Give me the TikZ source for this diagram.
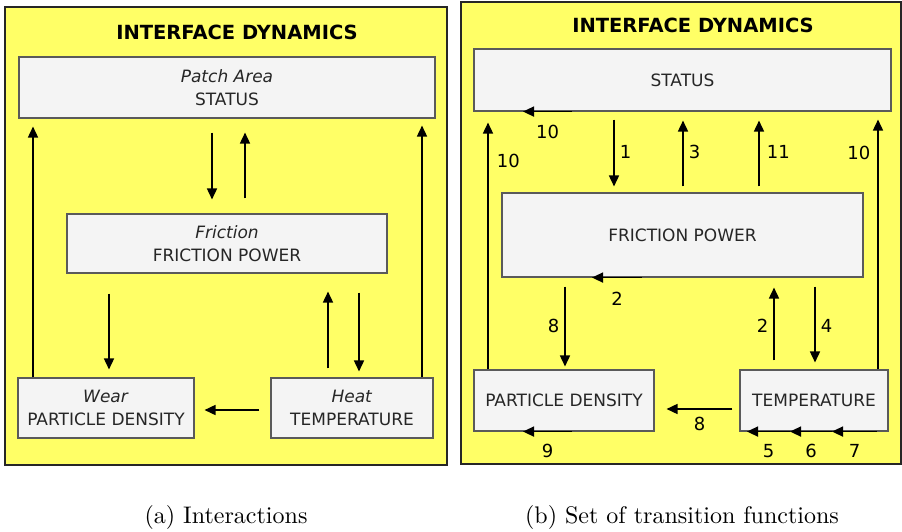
\documentclass[tikz,border=0pt]{standalone}
\usepackage{fontspec}
\newfontfamily\boxfont{DejaVu Sans}
\newfontfamily\capfont{lmroman10-regular.otf}
\usetikzlibrary{arrows.meta}
\definecolor{panelyellow}{RGB}{255,255,102}
\definecolor{boxgray}{RGB}{244,244,244}
\definecolor{boxline}{RGB}{90,90,90}

\begin{document}
\begin{tikzpicture}[x=1pt,y=-1pt,
    box/.style={draw=boxline,line width=1.1pt,fill=boxgray,inner sep=0pt,align=center,
      font=\boxfont\fontsize{17}{23}\selectfont,text=black!85},
    panel/.style={draw=black!85,line width=1.5pt,fill=panelyellow},
    headline/.style={font=\boxfont\bfseries\fontsize{19.5}{24}\selectfont},
    arr/.style={line width=1.6pt,-{Triangle[length=11pt,width=10pt]}},
    lbl/.style={font=\boxfont\fontsize{18}{22}\selectfont,inner sep=0pt},
    caption/.style={anchor=base,font=\capfont\fontsize{24}{28}\selectfont}]
  \useasboundingbox (0,0) rectangle (902,531);

  % (a) interactions
  \draw[panel] (5,7) rectangle (447,465);
  \node[headline] (titleA) at (237,32) {INTERFACE DYNAMICS};
  \node[box,minimum width=416pt,minimum height=61pt] (statusA) at (227,87.5) {\textit{Patch Area}\\STATUS};
  \node[box,minimum width=320pt,minimum height=59pt] (frictionA) at (227,243.5) {\textit{Friction}\\FRICTION POWER};
  \node[box,minimum width=176pt,minimum height=60pt] (wearA) at (106,408) {\textit{Wear}\\PARTICLE DENSITY};
  \node[box,minimum width=162pt,minimum height=60pt] (heatA) at (352,408) {\textit{Heat}\\TEMPERATURE};

  \draw[arr,shorten >=8pt] (wearA.north -| 33,0) -- (statusA.south -| 33,0);
  \draw[arr,shorten <=14pt,shorten >=14pt] (statusA.south -| 212,0) -- (frictionA.north -| 212,0);
  \draw[arr,shorten <=15pt,shorten >=14pt] (frictionA.north -| 245,0) -- (statusA.south -| 245,0);
  \draw[arr,shorten <=20pt,shorten >=8pt] (frictionA.south -| 109,0) -- (wearA.north -| 109,0);
  \draw[arr,shorten <=9pt,shorten >=18pt] (heatA.north -| 328,0) -- (frictionA.south -| 328,0);
  \draw[arr,shorten <=19pt,shorten >=6pt] (frictionA.south -| 359,0) -- (heatA.north -| 359,0);
  \draw[arr,shorten >=7pt] (heatA.north -| 422,0) -- (statusA.south -| 422,0);
  \draw[arr,shorten <=11pt,shorten >=10pt] (heatA.west |- 0,410) -- (wearA.east |- 0,410);

  % (b) transition functions
  \draw[panel] (461,2) rectangle (901,464);
  \node[headline] (titleB) at (693,25) {INTERFACE DYNAMICS};
  \node[box,minimum width=417pt,minimum height=62pt] (statusB) at (682.5,80) {STATUS};
  \node[box,minimum width=361pt,minimum height=84pt] (frictionB) at (682.5,235) {FRICTION POWER};
  \node[box,minimum width=180pt,minimum height=61pt] (particleB) at (564,400.5) {PARTICLE DENSITY};
  \node[box,minimum width=148pt,minimum height=61pt] (tempB) at (814,400.5) {TEMPERATURE};

  \draw[arr] (statusB.south -| 572,0) -- node[lbl,below=13pt] {10} (statusB.south -| 523,0);
  \draw[arr,shorten >=11pt] (particleB.north -| 488,0) -- node[lbl,pos=.81,right=8pt] {10} (statusB.south -| 488,0);
  \draw[arr,shorten <=8pt,shorten >=6pt] (statusB.south -| 614,0) -- node[lbl,right=5pt] {1} (frictionB.north -| 614,0);
  \draw[arr,shorten <=6pt,shorten >=9pt] (frictionB.north -| 683,0) -- node[lbl,right=5pt] {3} (statusB.south -| 683,0);
  \draw[arr,shorten <=6pt,shorten >=9pt] (frictionB.north -| 759,0) -- node[lbl,right=7pt] {11} (statusB.south -| 759,0);
  \draw[arr,shorten >=8pt] (tempB.north -| 878,0) -- node[lbl,pos=.84,left=7pt] {10} (statusB.south -| 878,0);
  \draw[arr] (frictionB.south -| 642,0) -- node[lbl,below=14pt] {2} (frictionB.south -| 592,0);
  \draw[arr,shorten <=9pt,shorten >=3pt] (frictionB.south -| 565,0) -- node[lbl,pos=.53,left=5pt] {8} (particleB.north -| 565,0);
  \draw[arr,shorten <=9pt,shorten >=10pt] (tempB.north -| 774,0) -- node[lbl,pos=.47,left=5pt] {2} (frictionB.south -| 774,0);
  \draw[arr,shorten <=9pt,shorten >=7pt] (frictionB.south -| 815,0) -- node[lbl,pos=.53,right=5pt] {4} (tempB.north -| 815,0);
  \draw[arr,shorten <=7pt,shorten >=12pt] (tempB.west |- 0,409) -- node[lbl,pos=.47,below=7pt] {8} (particleB.east |- 0,409);
  \draw[arr] (particleB.south -| 572,0) -- node[lbl,below=12pt] {9} (particleB.south -| 523,0);
  \draw[arr] (tempB.south -| 877,0) -- node[lbl,below=12pt] {7} (tempB.south -| 832,0);
  \draw[arr] (tempB.south -| 832,0) -- node[lbl,below=12pt] {6} (tempB.south -| 790,0);
  \draw[arr] (tempB.south -| 790,0) -- node[lbl,below=12pt] {5} (tempB.south -| 747,0);

  % captions
  \node[caption] (capA) at (226,523) {(a) Interactions};
  \node[caption] (capB) at (682,523) {(b) Set of transition functions};
\end{tikzpicture}
\end{document}
